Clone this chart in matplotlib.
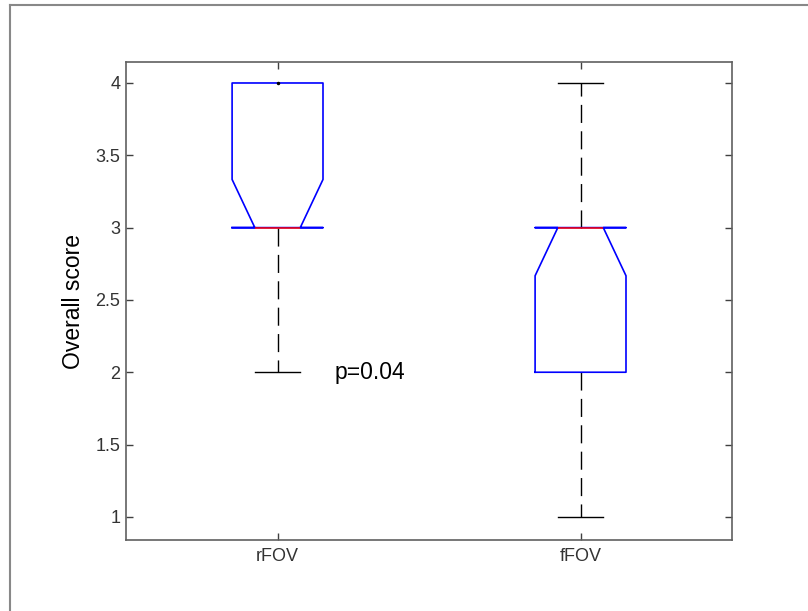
import matplotlib
matplotlib.use('Agg')
import matplotlib.pyplot as plt
from matplotlib.lines import Line2D

plt.rcParams['font.family'] = ['Liberation Sans', 'DejaVu Sans']

# data for the two notched boxes
labels = ['rFOV', 'fFOV']
q1 = [3.0, 2.0]
med = [3.0, 3.0]
q3 = [4.0, 3.0]
whislo = [2.0, 1.0]
whishi = [4.0, 4.0]
# notch limits, clipped to the box like the original
cilo = [3.0, 2.667]
cihi = [3.333, 3.0]
p_text = 'p=0.04'

stats = []
for i in range(len(labels)):
    stats.append({'label': labels[i], 'q1': q1[i], 'med': med[i], 'q3': q3[i],
                  'whislo': whislo[i], 'whishi': whishi[i],
                  'cilo': cilo[i], 'cihi': cihi[i], 'fliers': []})

fig = plt.figure(figsize=(8.08, 6.11), dpi=100)
ax = fig.add_axes([0.156, 0.1162, 0.750, 0.7823])

res = ax.bxp(stats, positions=[1, 2], widths=0.3, shownotches=True, showfliers=False,
             boxprops=dict(color='blue', linewidth=1.2, zorder=3),
             medianprops=dict(color='red', linewidth=1.1, zorder=4),
             whiskerprops=dict(color='black', linewidth=1.0, linestyle=(0, (13, 6)), zorder=2),
             capprops=dict(color='black', linewidth=1.0, zorder=2),
             capwidths=0.15)

# caps sitting on the box edge are hidden by the box in the original
for i in range(len(labels)):
    if whishi[i] == q3[i]:
        res['caps'][2 * i + 1].set_visible(False)
    if whislo[i] == q1[i]:
        res['caps'][2 * i].set_visible(False)

# small dot at the zero-length upper whisker of rFOV
ax.plot([1], [whishi[0]], marker='.', color='black', markersize=3, zorder=5)

ax.set_xlim(0.5, 2.5)
ax.set_ylim(0.84, 4.145)
ax.set_yticks([1, 1.5, 2, 2.5, 3, 3.5, 4])
ax.set_yticklabels(['1', '1.5', '2', '2.5', '3', '3.5', '4'])
ax.set_xticks([1, 2])
ax.set_xticklabels(labels)
ax.tick_params(direction='in', length=5, width=1, color='#404040',
               labelcolor='#333333', labelsize=13, top=True, right=True, pad=6)
ax.tick_params(axis='y', pad=4)
for s in ax.spines.values():
    s.set_color('#606060')
    s.set_linewidth(1.2)

ax.set_ylabel('Overall score', fontsize=16.5, labelpad=8)
ax.text(1.305, 2.0, p_text, fontsize=16.5, ha='center', va='center')

# grey frame lines at top and left of the figure
fig.add_artist(Line2D([10 / 808, 1], [1 - 5 / 611, 1 - 5 / 611], color='#888888', linewidth=1.5))
fig.add_artist(Line2D([10 / 808, 10 / 808], [0, 1 - 5 / 611], color='#888888', linewidth=1.5))

fig.savefig('out.png', dpi=100)
